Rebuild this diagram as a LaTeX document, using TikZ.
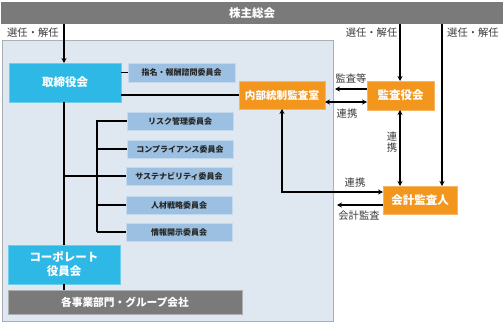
\documentclass[tikz,border=0pt]{standalone}
\usepackage{fontspec}
\setmainfont{Noto Sans CJK JP}
\usetikzlibrary{arrows.meta}
\definecolor{barg}{HTML}{7A7A7A}
\definecolor{panel}{HTML}{DFE8F1}
\definecolor{panelb}{HTML}{A9AFB5}
\definecolor{cyanb}{HTML}{2DB8E6}
\definecolor{orangeb}{HTML}{F3961E}
\definecolor{comm}{HTML}{9BC0E1}
\definecolor{txt}{HTML}{3A3A3A}
\tikzset{
  box/.style={anchor=north west, inner sep=0pt, outer sep=0pt, align=center},
  mainbox/.style={box, fill=cyanb, draw=cyanb!70!white, line width=0.6pt, text=white, font=\fontsize{11.5}{14}\selectfont\bfseries},
  orbox/.style={box, fill=orangeb, draw=orangeb!70!white, line width=0.6pt, text=white, font=\fontsize{11.5}{13}\selectfont\bfseries},
  combox/.style={box, fill=comm, draw=comm!60!white, line width=0.6pt, text=black!85, font=\fontsize{8}{9}\selectfont\bfseries},
  graybox/.style={box, fill=barg, draw=barg!60!white, line width=0.6pt, text=white, font=\fontsize{10.7}{12}\selectfont\bfseries},
  lbl/.style={inner sep=0pt, text=txt, font=\fontsize{10.3}{12}\selectfont},
  ln/.style={line width=1.3pt, black},
  arr/.style={ln, -{Stealth[length=5pt,width=5pt]}},
  darr/.style={ln, {Stealth[length=5pt,width=5pt]}-{Stealth[length=5pt,width=5pt]}},
}
\begin{document}
\begin{tikzpicture}[x=1pt,y=-1pt]
\useasboundingbox (0,0) rectangle (504,324);
% panel
\node[box, fill=panel, draw=panelb, line width=0.8pt, minimum width=331, minimum height=281] (panel) at (2,40) {};
% top bar
\node[box, fill=barg, minimum width=502, minimum height=22, text=white, font=\fontsize{11.5}{13}\selectfont\bfseries] (top) at (1,2) {株主総会};
% main boxes
\node[mainbox, minimum width=112, minimum height=39] (board) at (9,63) {取締役会};
\node[mainbox, minimum width=112, minimum height=39] (corp) at (8,245) {コーポレート\\役員会};
\node[graybox, minimum width=234, minimum height=24] (biz) at (8,290) {各事業部門・グループ会社};
% committees
\node[combox, minimum width=107, minimum height=19] (c0) at (128,63) {指名・報酬諮問委員会};
\node[combox, minimum width=106, minimum height=18] (c1) at (127,112) {リスク管理委員会};
\node[combox, minimum width=106, minimum height=18] (c2) at (127,140) {コンプライアンス委員会};
\node[combox, minimum width=106, minimum height=18] (c3) at (126,167) {サステナビリティ委員会};
\node[combox, minimum width=106, minimum height=18] (c4) at (126,196) {人材戦略委員会};
\node[combox, minimum width=106, minimum height=18] (c5) at (126,223) {情報開示委員会};
% orange boxes
\node[orbox, font=\fontsize{10.6}{12}\selectfont\bfseries, minimum width=86, minimum height=28] (ia) at (239,81) {内部統制監査室};
\node[orbox, minimum width=67, minimum height=29] (kan) at (367,81) {監査役会};
\node[orbox, minimum width=74, minimum height=28] (acc) at (383,186) {会計監査人};
% helper coordinates
\coordinate (bx) at (64,0);
\coordinate (sp) at (97,0);
% board connections
\draw[arr] (top.south -| bx) -- (board.north -| bx);
\draw[ln] (board.east |- c0.west) -- (c0.west);
\draw[ln] (board.east |- 0,95) -- (ia.west |- 0,95);
\draw[ln] (board.south -| bx) -- (corp.north -| bx);
\draw[ln] (corp.south -| bx) -- (biz.north -| bx);
\draw[ln] (bx |- c3.west) -- (c3.west);
\draw[ln] (sp |- c5.west) -- (sp |- c1.west) -- (c1.west);
\draw[ln] (sp |- c2.west) -- (c2.west);
\draw[ln] (sp |- c4.west) -- (c4.west);
\draw[ln] (sp |- c5.west) -- (c5.west);
% right side
\coordinate (kx) at (400,0);
\coordinate (ax) at (442,0);
\draw[arr] (top.south -| kx) -- (kan.north -| kx);
\draw[arr] (top.south -| ax) -- (acc.north -| ax);
\draw[darr] (kan.south -| kx) -- (acc.north -| kx);
\draw[arr] (kan.west |- 0,89) -- (335,89) coordinate (kt);
\draw[darr] (ia.east |- 0,102) -- (kan.west |- 0,102);
\draw[darr] (ia.south -| 282,0) -- (282,192) -- (acc.west |- 0,192);
\draw[arr] (acc.west |- 0,205) -- (337,205) coordinate (at);
% labels
\node[lbl, anchor=west] (l1) at (7,32.5) {選任・解任};
\node[lbl, anchor=east] (l2) at (397.5,32.5) {選任・解任};
\node[lbl, anchor=west] (l3) at (447,32.5) {選任・解任};
\node[lbl] (l4) at (351,79) {監査等};
\node[lbl] (l5) at (347,114) {連携};
\node[lbl, align=center, font=\fontsize{10.3}{11.5}\selectfont] (l6) at (392,142) {連\\携};
\node[lbl] (l7) at (355,182.5) {連携};
\node[lbl] (l8) at (359,215.5) {会計監査};
\end{tikzpicture}
\end{document}
